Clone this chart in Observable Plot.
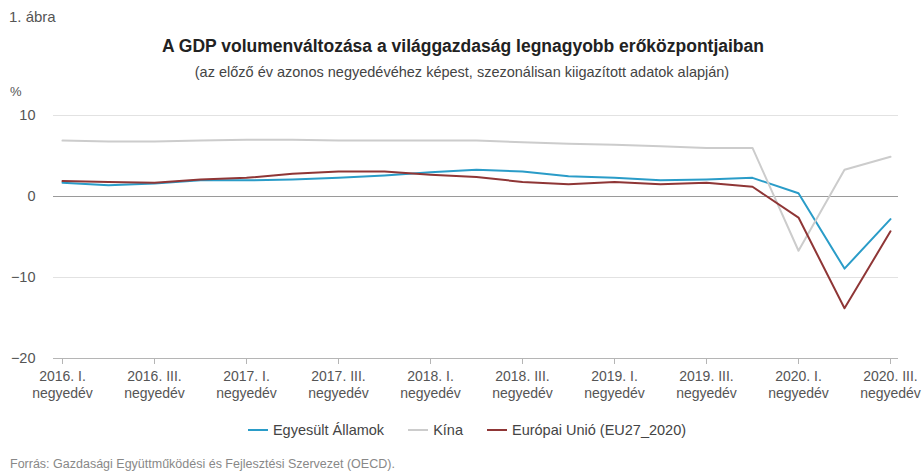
<!DOCTYPE html>
<html>
<head>
<meta charset="utf-8">
<script src="https://cdn.jsdelivr.net/npm/d3@7"></script>
<script src="https://cdn.jsdelivr.net/npm/@observablehq/plot@0.6"></script>
<style>
  html, body { margin: 0; padding: 0; background: #fff; }
  body { font-family: "Liberation Sans", Arial, sans-serif; }
  #wrap { position: relative; width: 924px; height: 472px; overflow: hidden; }
  .abs { position: absolute; white-space: nowrap; }
  #fig { left: 9px; top: 8px; font-size: 15px; color: #555; }
  #title { left: 0; width: 924px; text-align: center; top: 36px; font-size: 17.5px; font-weight: bold; color: #222; padding-left: 2px; box-sizing: border-box; }
  #subtitle { left: 0; width: 924px; text-align: center; top: 64px; font-size: 14.5px; color: #444; }
  #unit { left: 10px; top: 84px; font-size: 13px; color: #555; }
  #chart { left: 0; top: 100px; }
  #legend { left: 0; width: 924px; top: 422px; display: flex; justify-content: center; gap: 24px; font-size: 14.5px; color: #444; padding-left: 10px; box-sizing: border-box; }
  #legend .item { display: flex; align-items: center; gap: 5px; }
  #legend .sw { display: inline-block; width: 20px; height: 2px; }
  #caption { left: 10px; top: 457px; font-size: 12.5px; color: #888; }
</style>
</head>
<body>
<div id="wrap">
  <div class="abs" id="fig">1. ábra</div>
  <div class="abs" id="title">A GDP volumenváltozása a világgazdaság legnagyobb erőközpontjaiban</div>
  <div class="abs" id="subtitle">(az előző év azonos negyedévéhez képest, szezonálisan kiigazított adatok alapján)</div>
  <div class="abs" id="unit">%</div>
  <div class="abs" id="chart"></div>
  <div class="abs" id="legend"></div>
  <div class="abs" id="caption">Forrás: Gazdasági Együttműködési és Fejlesztési Szervezet (OECD).</div>
</div>
<script>
const quarters = [
  "2016. I.", "2016. II.", "2016. III.", "2016. IV.",
  "2017. I.", "2017. II.", "2017. III.", "2017. IV.",
  "2018. I.", "2018. II.", "2018. III.", "2018. IV.",
  "2019. I.", "2019. II.", "2019. III.", "2019. IV.",
  "2020. I.", "2020. II.", "2020. III."
];
const tickQuarters = ["2016. I.", "2016. III.", "2017. I.", "2017. III.", "2018. I.", "2018. III.", "2019. I.", "2019. III.", "2020. I.", "2020. III."];
const tickSuffix = "negyedév";
const seriesNames = ["Egyesült Államok", "Kína", "Európai Unió (EU27_2020)"];
const seriesColors = ["#2a9cc8", "#cccccc", "#8f3636"];
const usa   = [1.7, 1.4, 1.6, 2.0, 2.0, 2.1, 2.3, 2.6, 3.0, 3.3, 3.1, 2.5, 2.3, 2.0, 2.1, 2.3, 0.4, -8.9, -2.8];
const china = [6.9, 6.8, 6.8, 6.9, 7.0, 7.0, 6.9, 6.9, 6.9, 6.9, 6.7, 6.5, 6.4, 6.2, 6.0, 6.0, -6.7, 3.3, 4.9];
const eu    = [1.9, 1.8, 1.7, 2.1, 2.3, 2.8, 3.1, 3.1, 2.7, 2.4, 1.8, 1.5, 1.8, 1.5, 1.7, 1.2, -2.6, -13.8, -4.3];
const yTicks = [-20, -10, 0, 10];

const seriesValues = [usa, china, eu];
const data = [];
seriesNames.forEach((s, k) => {
  quarters.forEach((q, i) => data.push({ series: s, q, v: seriesValues[k][i] }));
});

const chart = Plot.plot({
  width: 924,
  height: 303,
  marginLeft: 53,
  marginRight: 26,
  marginTop: 15,
  marginBottom: 45,
  style: { fontFamily: '"Liberation Sans", Arial, sans-serif', fontSize: "14px", color: "#555", background: "transparent" },
  x: { type: "point", domain: quarters, padding: 0 },
  y: { domain: [-20, 10] },
  color: { domain: seriesNames, range: seriesColors },
  marks: [
    Plot.ruleY([10, -10], { stroke: "#e2e2e2", strokeWidth: 1 }),
    Plot.ruleY([0], { stroke: "#9a9a9a", strokeWidth: 1 }),
    Plot.ruleY([-20], { stroke: "#b5b5b5", strokeWidth: 1 }),
    Plot.axisY({ ticks: yTicks, tickSize: 0, tickPadding: 18, label: null, fontSize: 14.5, tickFormat: d => d < 0 ? "−" + Math.abs(d) : String(d) }),
    Plot.axisX({ ticks: tickQuarters, tickSize: 6, tickPadding: 4, stroke: "#b5b5b5", label: null, fontSize: 14, lineHeight: 1.25, tickFormat: d => d + "\n" + tickSuffix }),
    Plot.line(data, { x: "q", y: "v", z: "series", stroke: d => d.series, strokeWidth: 2, curve: "linear" })
  ]
});
document.getElementById("chart").appendChild(chart);

const legend = document.getElementById("legend");
seriesNames.forEach((s, k) => {
  const it = document.createElement("div");
  it.className = "item";
  const sw = document.createElement("span");
  sw.className = "sw";
  sw.style.background = seriesColors[k];
  const lb = document.createElement("span");
  lb.textContent = s;
  it.appendChild(sw);
  it.appendChild(lb);
  legend.appendChild(it);
});
</script>
</body>
</html>
